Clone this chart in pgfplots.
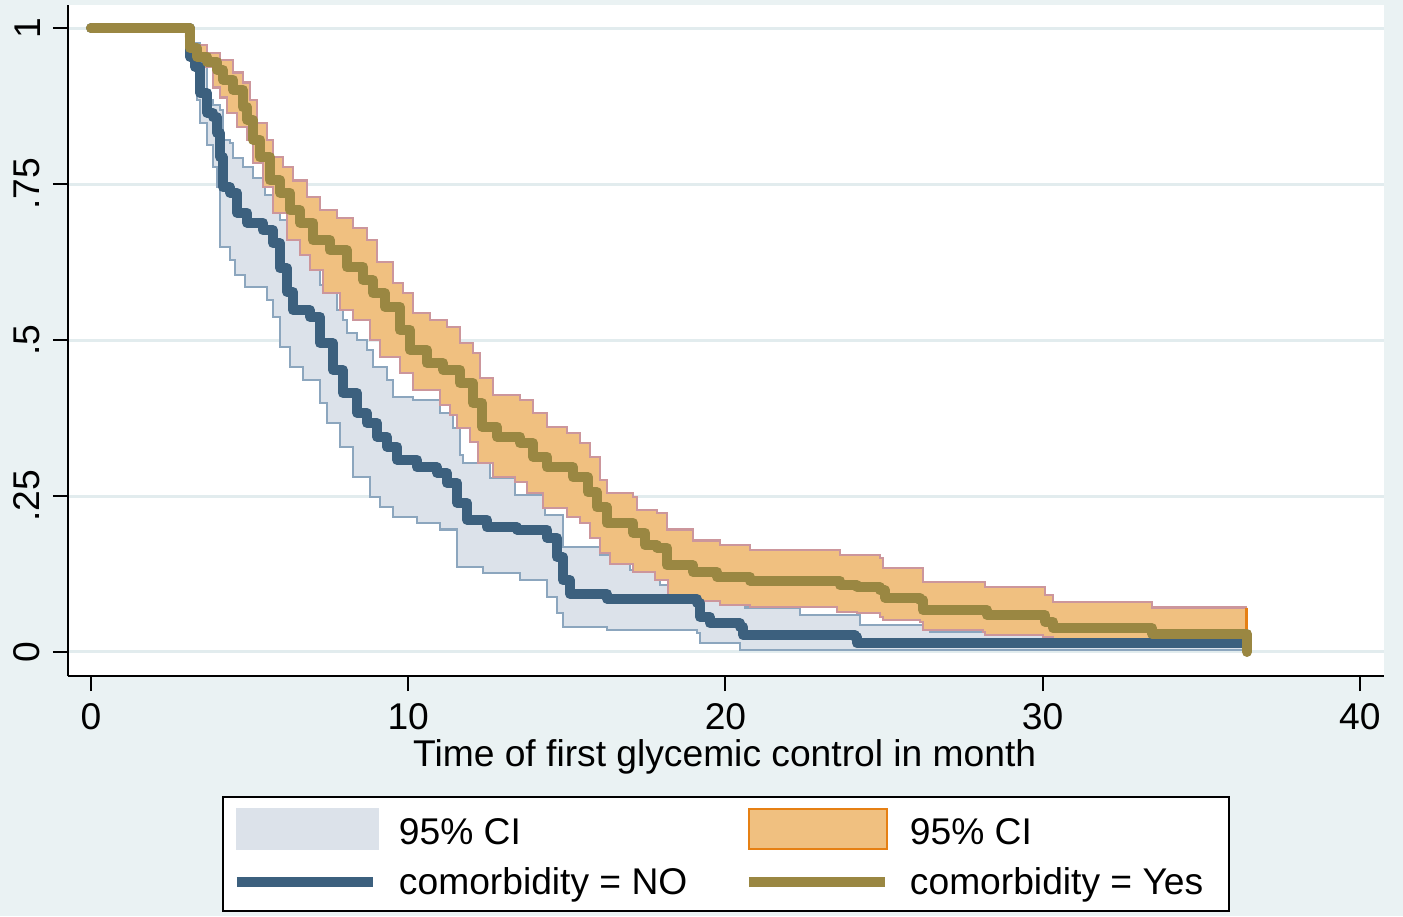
\documentclass[border=0pt]{standalone}
\usepackage{pgfplots}
\pgfplotsset{compat=1.18}
\usepackage{pgfplotstable}
\usepackage{fontspec}
\setmainfont{Liberation Sans}
\definecolor{bgcol}{RGB}{234,242,243}
\definecolor{gridcol}{RGB}{226,236,238}
\definecolor{nocol}{RGB}{60,96,126}
\definecolor{yescol}{RGB}{154,135,66}
\definecolor{cinofill}{RGB}{220,226,234}
\definecolor{cinoline}{RGB}{140,166,190}
\definecolor{ciyesfill}{RGB}{240,192,128}
\definecolor{ciyesline}{RGB}{204,150,156}
\definecolor{ciyesedge}{RGB}{230,128,20}

% Kaplan-Meier estimate, comorbidity = Yes
\pgfplotstableread{
x y
0 1.000
3.12 0.968
3.34 0.954
3.66 0.946
3.97 0.933
4.16 0.917
4.48 0.901
4.79 0.873
4.92 0.853
5.11 0.821
5.33 0.793
5.64 0.756
5.96 0.736
6.27 0.708
6.59 0.688
7.00 0.660
7.53 0.644
8.07 0.617
8.58 0.596
8.89 0.575
9.27 0.553
9.74 0.516
10.06 0.484
10.59 0.463
11.10 0.452
11.63 0.431
12.04 0.399
12.33 0.361
12.80 0.345
13.52 0.335
13.93 0.313
14.38 0.296
15.20 0.280
15.67 0.256
15.95 0.232
16.26 0.207
17.09 0.191
17.47 0.171
17.84 0.167
18.16 0.139
18.98 0.128
19.74 0.120
20.78 0.114
23.61 0.107
24.15 0.104
24.87 0.099
25.03 0.087
26.13 0.083
26.23 0.067
28.25 0.059
30.08 0.048
30.33 0.038
33.45 0.029
36.44 0.000
}\yesS

% Kaplan-Meier estimate, comorbidity = NO
\pgfplotstableread{
x y
0 1
3.12 0.954
3.28 0.938
3.44 0.896
3.66 0.864
3.85 0.857
3.97 0.832
4.07 0.793
4.16 0.745
4.38 0.736
4.60 0.704
4.92 0.688
5.42 0.676
5.74 0.655
5.96 0.615
6.18 0.577
6.37 0.548
6.90 0.537
7.22 0.495
7.63 0.452
7.94 0.415
8.39 0.383
8.70 0.367
9.02 0.345
9.33 0.329
9.65 0.308
10.28 0.296
10.91 0.287
11.22 0.271
11.54 0.239
11.85 0.212
12.48 0.200
13.43 0.196
14.38 0.183
14.69 0.152
14.88 0.115
15.10 0.093
16.27 0.085
19.10 0.079
19.20 0.056
19.51 0.046
20.46 0.040
20.56 0.027
24.09 0.024
24.15 0.014
36.44 0.014
}\noS

% upper CI, Yes
\pgfplotstableread{
x y
2.96 0.997
3.03 0.973
3.66 0.960
4.07 0.949
4.48 0.929
4.79 0.913
5.01 0.885
5.23 0.848
5.55 0.821
5.74 0.793
6.05 0.777
6.37 0.756
6.81 0.729
7.22 0.708
7.76 0.696
8.26 0.680
8.70 0.660
9.02 0.625
9.52 0.591
9.84 0.575
10.15 0.543
10.69 0.532
11.22 0.521
11.63 0.495
12.04 0.479
12.26 0.439
12.67 0.412
13.52 0.404
13.93 0.383
14.38 0.361
15.01 0.351
15.42 0.335
15.73 0.313
16.05 0.276
16.27 0.255
17.09 0.248
17.21 0.228
17.84 0.223
18.16 0.196
18.98 0.179
19.83 0.171
20.78 0.163
23.61 0.155
24.87 0.151
24.97 0.135
26.23 0.112
28.18 0.104
30.08 0.091
30.33 0.080
33.45 0.071
36.44 0.071
}\yesU

% lower CI, Yes
\pgfplotstableread{
x y
2.96 0.985
3.12 0.960
3.53 0.938
3.85 0.905
4.07 0.889
4.29 0.864
4.60 0.841
4.92 0.821
5.11 0.784
5.42 0.745
5.74 0.704
6.18 0.660
6.59 0.636
6.90 0.612
7.31 0.575
7.85 0.548
8.26 0.532
8.80 0.500
9.11 0.473
9.74 0.447
10.15 0.420
11.00 0.396
11.32 0.380
11.54 0.359
11.95 0.337
12.20 0.303
12.67 0.280
13.37 0.272
13.75 0.255
14.25 0.231
15.01 0.216
15.42 0.207
15.73 0.183
16.05 0.159
16.36 0.141
17.09 0.128
17.78 0.115
18.19 0.088
19.10 0.082
19.83 0.075
20.78 0.072
23.52 0.064
24.15 0.0625
24.87 0.056
24.97 0.051
26.13 0.048
26.23 0.035
28.12 0.032
28.18 0.027
30.01 0.024
30.33 0.021
33.45 0.016
36.44 0.013
}\yesL

% upper CI, NO
\pgfplotstableread{
x y
3.12 0.997
3.22 0.976
3.44 0.944
3.66 0.885
3.85 0.877
4.07 0.869
4.16 0.821
4.38 0.816
4.48 0.792
4.79 0.777
5.11 0.760
5.49 0.732
5.96 0.692
6.59 0.636
7.22 0.588
7.53 0.575
7.76 0.548
7.94 0.532
8.07 0.511
8.39 0.500
8.70 0.484
8.89 0.457
9.33 0.436
9.52 0.409
10.15 0.404
11.00 0.383
11.41 0.359
11.63 0.316
11.73 0.303
12.58 0.279
13.37 0.252
14.31 0.220
14.88 0.168
16.05 0.155
16.99 0.131
17.94 0.107
19.20 0.083
20.62 0.071
22.35 0.059
24.24 0.043
26.45 0.032
30.01 0.019
36.44 0.019
}\noU

% lower CI, NO
\pgfplotstableread{
x y
3.12 0.949
3.34 0.885
3.44 0.848
3.66 0.813
3.85 0.777
3.97 0.745
4.07 0.649
4.38 0.628
4.54 0.604
4.85 0.585
5.55 0.564
5.74 0.537
5.96 0.489
6.27 0.457
6.68 0.436
7.22 0.399
7.44 0.367
7.85 0.329
8.26 0.280
8.80 0.248
9.11 0.232
9.52 0.216
10.28 0.207
11.00 0.196
11.54 0.136
12.36 0.127
13.52 0.115
14.38 0.088
14.69 0.0625
14.88 0.040
16.27 0.035
19.10 0.030
19.20 0.014
20.46 0.003
36.44 0.003
}\noL

% CI band NO: upper limits, then lower limits traversed backwards
\pgfplotstableread{
x y
3.12 0.997
3.22 0.976
3.44 0.944
3.66 0.885
3.85 0.877
4.07 0.869
4.16 0.821
4.38 0.816
4.48 0.792
4.79 0.777
5.11 0.760
5.49 0.732
5.96 0.692
6.59 0.636
7.22 0.588
7.53 0.575
7.76 0.548
7.94 0.532
8.07 0.511
8.39 0.500
8.70 0.484
8.89 0.457
9.33 0.436
9.52 0.409
10.15 0.404
11.00 0.383
11.41 0.359
11.63 0.316
11.73 0.303
12.58 0.279
13.37 0.252
14.31 0.220
14.88 0.168
16.05 0.155
16.99 0.131
17.94 0.107
19.20 0.083
20.62 0.071
22.35 0.059
24.24 0.043
26.45 0.032
30.01 0.019
36.44 0.019
36.44 0.003
36.44 0.003
20.46 0.014
19.20 0.030
19.10 0.035
16.27 0.040
14.88 0.0625
14.69 0.088
14.38 0.115
13.52 0.127
12.36 0.136
11.54 0.196
11.00 0.207
10.28 0.216
9.52 0.232
9.11 0.248
8.80 0.280
8.26 0.329
7.85 0.367
7.44 0.399
7.22 0.436
6.68 0.457
6.27 0.489
5.96 0.537
5.74 0.564
5.55 0.585
4.85 0.604
4.54 0.628
4.38 0.649
4.07 0.745
3.97 0.777
3.85 0.813
3.66 0.848
3.44 0.885
3.34 0.949
3.12 0.949
}\noBand

% CI band Yes: upper limits, then lower limits traversed backwards
\pgfplotstableread{
x y
2.96 0.997
3.03 0.973
3.66 0.960
4.07 0.949
4.48 0.929
4.79 0.913
5.01 0.885
5.23 0.848
5.55 0.821
5.74 0.793
6.05 0.777
6.37 0.756
6.81 0.729
7.22 0.708
7.76 0.696
8.26 0.680
8.70 0.660
9.02 0.625
9.52 0.591
9.84 0.575
10.15 0.543
10.69 0.532
11.22 0.521
11.63 0.495
12.04 0.479
12.26 0.439
12.67 0.412
13.52 0.404
13.93 0.383
14.38 0.361
15.01 0.351
15.42 0.335
15.73 0.313
16.05 0.276
16.27 0.255
17.09 0.248
17.21 0.228
17.84 0.223
18.16 0.196
18.98 0.179
19.83 0.171
20.78 0.163
23.61 0.155
24.87 0.151
24.97 0.135
26.23 0.112
28.18 0.104
30.08 0.091
30.33 0.080
33.45 0.071
36.44 0.071
36.44 0.013
36.44 0.016
33.45 0.021
30.33 0.024
30.01 0.027
28.18 0.032
28.12 0.035
26.23 0.048
26.13 0.051
24.97 0.056
24.87 0.0625
24.15 0.064
23.52 0.072
20.78 0.075
19.83 0.082
19.10 0.088
18.19 0.115
17.78 0.128
17.09 0.141
16.36 0.159
16.05 0.183
15.73 0.207
15.42 0.216
15.01 0.231
14.25 0.255
13.75 0.272
13.37 0.280
12.67 0.303
12.20 0.337
11.95 0.359
11.54 0.380
11.32 0.396
11.00 0.420
10.15 0.447
9.74 0.473
9.11 0.500
8.80 0.532
8.26 0.548
7.85 0.575
7.31 0.612
6.90 0.636
6.59 0.660
6.18 0.704
5.74 0.745
5.42 0.784
5.11 0.821
4.92 0.841
4.60 0.864
4.29 0.889
4.07 0.905
3.85 0.938
3.53 0.960
3.12 0.985
2.96 0.985
}\yesBand

\begin{document}
\fontsize{18.6}{22}\selectfont
\begin{tikzpicture}
\useasboundingbox (0,0) rectangle (701.5pt,458pt);
\fill[bgcol] (0,0) rectangle (701.5pt,458pt);
\begin{axis}[
  at={(34pt,120pt)}, anchor=south west,
  width=658pt, height=335.5pt, scale only axis,
  xmin=-0.725, xmax=40.76, ymin=-0.0385, ymax=1.037,
  axis x line*=bottom, axis y line*=left,
  axis line style={black, line width=1pt, -},
  axis background/.style={fill=white},
  xtick={0,10,20,30,40}, xticklabels={0,10,20,30,40},
  ytick={0,0.25,0.5,0.75,1}, yticklabels={0,.25,.5,.75,1},
  tick align=outside, major tick length=7.5pt,
  tick style={black, line width=1pt},
  ymajorgrids, grid style={gridcol, line width=1.5pt},
  tick label style={font=\fontsize{18.6}{22}\selectfont, black},
  yticklabel style={rotate=90, anchor=south},
  xlabel={Time of first glycemic control in month},
  xlabel style={at={(axis description cs:0.499,-0.1356)}, anchor=base, font=\fontsize{18.6}{22}\selectfont},
  legend columns=2,
  legend style={
    at={(axis description cs:0.117,-0.1788)}, anchor=north west,
    draw=black, line width=1pt, fill=white,
    inner xsep=4.5pt, inner ysep=5.5pt,
    font=\fontsize{18.6}{22}\selectfont,
    cells={anchor=base west},
    nodes={inner sep=0pt},
    row sep=8.7pt,
    /tikz/every odd column/.append style={column sep=10pt},
    /tikz/every even column/.append style={column sep=28.3pt},
  },
]
\addlegendimage{legend image code/.code={\filldraw[fill=cinofill, draw=cinofill, line width=1pt] (0pt,-2.5pt) rectangle (70.5pt,17.5pt);}}
\addlegendentry{95\% CI}
\addlegendimage{legend image code/.code={\filldraw[fill=ciyesfill, draw=ciyesedge, line width=1.2pt] (0pt,-2.5pt) rectangle (69pt,17.5pt);}}
\addlegendentry{95\% CI}
\addlegendimage{legend image code/.code={\draw[draw=nocol, line width=5pt] (0pt,6.5pt) -- (68pt,6.5pt);}}
\addlegendentry{comorbidity = NO}
\addlegendimage{legend image code/.code={\draw[draw=yescol, line width=5pt] (0pt,6.5pt) -- (68pt,6.5pt);}}
\addlegendentry{comorbidity = Yes\rule{8.5pt}{0pt}}

% CI band: comorbidity = NO
\addplot[const plot, fill=cinofill, draw=none, forget plot] table {\noBand};
\addplot[const plot, cinoline, line width=1.2pt, forget plot] table {\noU};
\addplot[const plot, cinoline, line width=1.2pt, forget plot] table {\noL};

% CI band: comorbidity = Yes
\addplot[const plot, fill=ciyesfill, draw=none, forget plot] table {\yesBand};
\addplot[const plot, ciyesline, line width=1.2pt, forget plot] table {\yesU};
\addplot[const plot, ciyesline, line width=1.2pt, forget plot] table {\yesL};
\addplot[ciyesedge, line width=1.5pt, forget plot] coordinates {(36.44,0.071) (36.44,0.013)};

% survivor functions
\addplot[const plot, nocol, line width=5pt, line cap=round, line join=round, forget plot] table {\noS};
\addplot[const plot, yescol, line width=5pt, line cap=round, line join=round, forget plot] table {\yesS};
\end{axis}
\end{tikzpicture}
\end{document}
